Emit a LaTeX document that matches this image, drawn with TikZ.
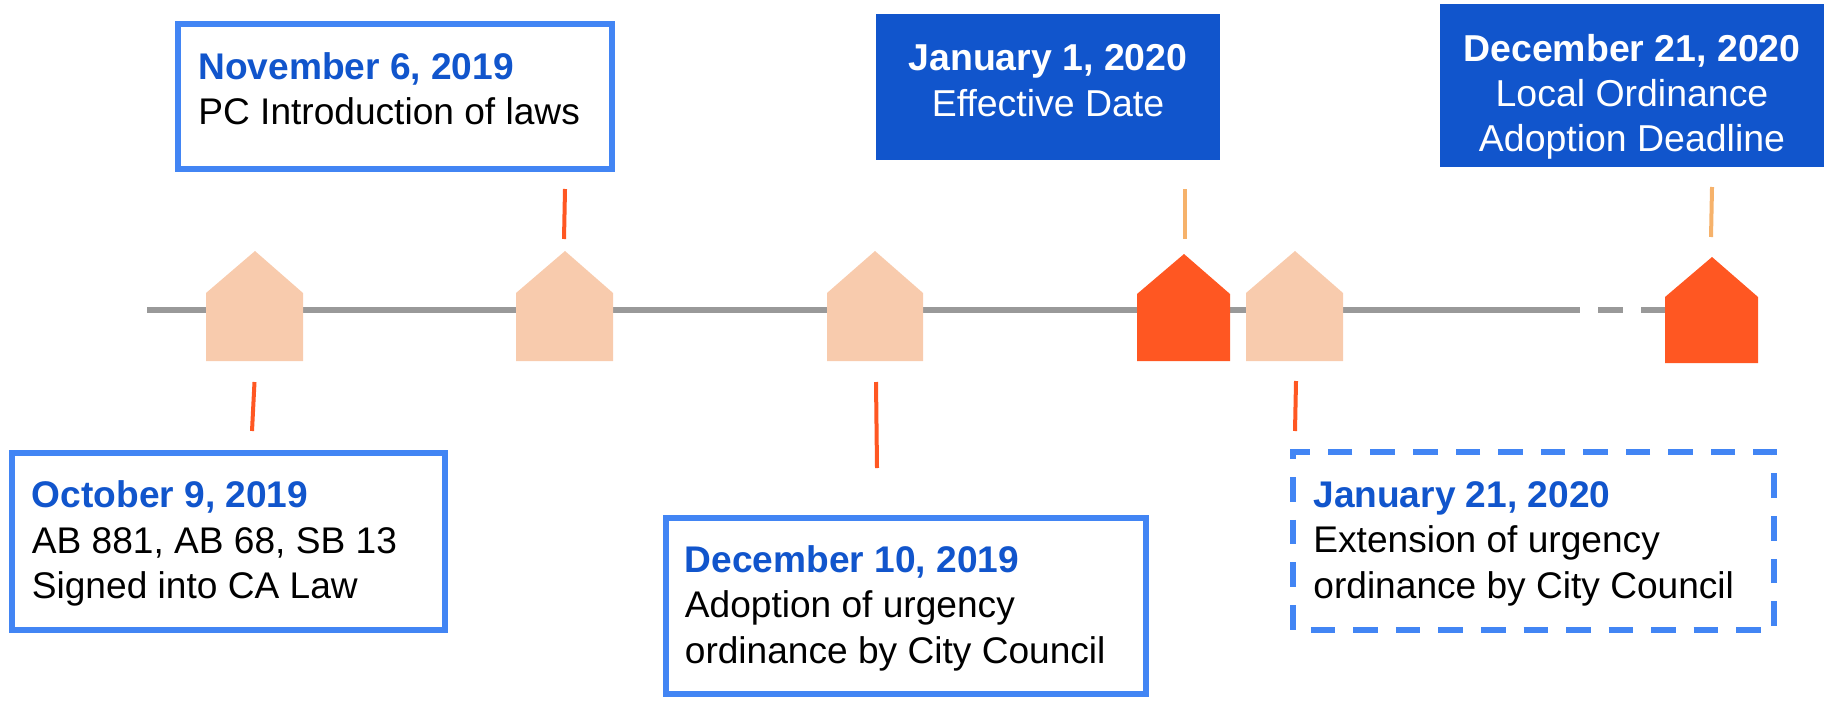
\documentclass[tikz,border=0pt]{standalone}
\usepackage{fontspec}
\setmainfont{Liberation Sans}
\definecolor{boxblue}{RGB}{66, 133, 244}
\definecolor{darkblue}{RGB}{17, 85, 204}
\definecolor{palehouse}{RGB}{248, 203, 173}
\definecolor{redhouse}{RGB}{255, 87, 34}
\definecolor{paletick}{RGB}{246, 178, 107}
\definecolor{axisgrey}{RGB}{153, 153, 153}
\tikzset{
    datebox/.style={draw=boxblue, line width=0.06cm, fill=white, align=flush left, font=\fontsize{10.55}{12.9}\selectfont, inner ysep=0pt},
    solidbox/.style={fill=darkblue, text=white, align=center, font=\fontsize{10.65}{12.9}\selectfont, inner sep=0pt},
    axisline/.style={draw=axisgrey, line width=0.06cm},
    ticksmark/.style={line width=0.04cm}
}
\newcommand{\datetext}[1]{\rule{0pt}{0.31cm}\textcolor{darkblue}{\textbf{#1}}}

\begin{document}
\begin{tikzpicture}[x=0.01cm, y=-0.01cm]
    \useasboundingbox (0,0) rectangle (1831,700);

    \coordinate (axisstart) at (147,310);
    \coordinate (axisbreak) at (1555,310);
    \coordinate (axisend) at (1665,310);
    \draw[axisline] (axisstart) -- (axisbreak);
    \draw[axisline, dash pattern=on 0.245cm off 0.185cm] (axisbreak) -- (axisend);

    \fill[palehouse] (206,361) -- (206,293) -- (255,251) -- (303,293) -- (303,361) -- cycle;
    \fill[palehouse] (516,361) -- (516,293) -- (565,251) -- (613,293) -- (613,361) -- cycle;
    \fill[palehouse] (827,361) -- (827,293) -- (875,251) -- (923,293) -- (923,361) -- cycle;
    \fill[redhouse] (1137,361) -- (1137,294) -- (1184,254) -- (1230,294) -- (1230,361) -- cycle;
    \fill[palehouse] (1246,361) -- (1246,293) -- (1295,251) -- (1343,293) -- (1343,361) -- cycle;
    \fill[redhouse] (1665,363) -- (1665,297) -- (1712,257) -- (1758,297) -- (1758,363) -- cycle;

    \node[datebox, minimum width=4.33cm, minimum height=1.77cm, text width=3.93cm, inner xsep=0.2cm] (oct) at (228.5,541.5) {\datetext{October 9, 2019}\\AB 881, AB 68, SB 13\\Signed into CA Law};
    \node[datebox, minimum width=4.34cm, minimum height=1.45cm, text width=3.93cm, inner xsep=0.205cm] (nov) at (395,96.5) {\datetext{November 6, 2019}\\PC Introduction of laws\rule[-0.2cm]{0pt}{0pt}};
    \node[datebox, minimum width=4.80cm, minimum height=1.76cm, text width=4.42cm, inner xsep=0.19cm] (dec) at (906,606) {\datetext{December 10, 2019}\\Adoption of urgency\\ordinance by City Council};
    \node[datebox, dash pattern=on 0.245cm off 0.18cm, dash phase=0.245cm, minimum width=4.81cm, minimum height=1.78cm, text width=4.40cm, inner xsep=0.205cm] (jan) at (1533.5,541) {\datetext{January 21, 2020}\\Extension of urgency\\ordinance by City Council};

    \node[solidbox, minimum width=3.44cm, minimum height=1.46cm] (effective) at (1048,87) {\textbf{January 1, 2020}\\Effective Date\rule[-0.13cm]{0pt}{0pt}};
    \node[solidbox, minimum width=3.84cm, minimum height=1.63cm] (deadline) at (1632,85.5) {\rule{0pt}{0.5cm}\textbf{December 21, 2020}\\Local Ordinance\\Adoption Deadline};

    \coordinate (octtop) at (254.5,382);
    \coordinate (octbot) at (252,431);
    \coordinate (novtop) at (565,189);
    \coordinate (novbot) at (564,239);
    \coordinate (dectop) at (876,382);
    \coordinate (decbot) at (877,468);
    \coordinate (jantop) at (1296,381);
    \coordinate (janbot) at (1295,431);
    \coordinate (efftop) at (1185,189);
    \coordinate (effbot) at (1185,239);
    \coordinate (deadtop) at (1712,187);
    \coordinate (deadbot) at (1711,237);

    \draw[ticksmark, redhouse] (octtop) -- (octbot);
    \draw[ticksmark, redhouse] (novtop) -- (novbot);
    \draw[ticksmark, redhouse] (dectop) -- (decbot);
    \draw[ticksmark, redhouse] (jantop) -- (janbot);
    \draw[ticksmark, paletick] (efftop) -- (effbot);
    \draw[ticksmark, paletick] (deadtop) -- (deadbot);
\end{tikzpicture}
\end{document}
